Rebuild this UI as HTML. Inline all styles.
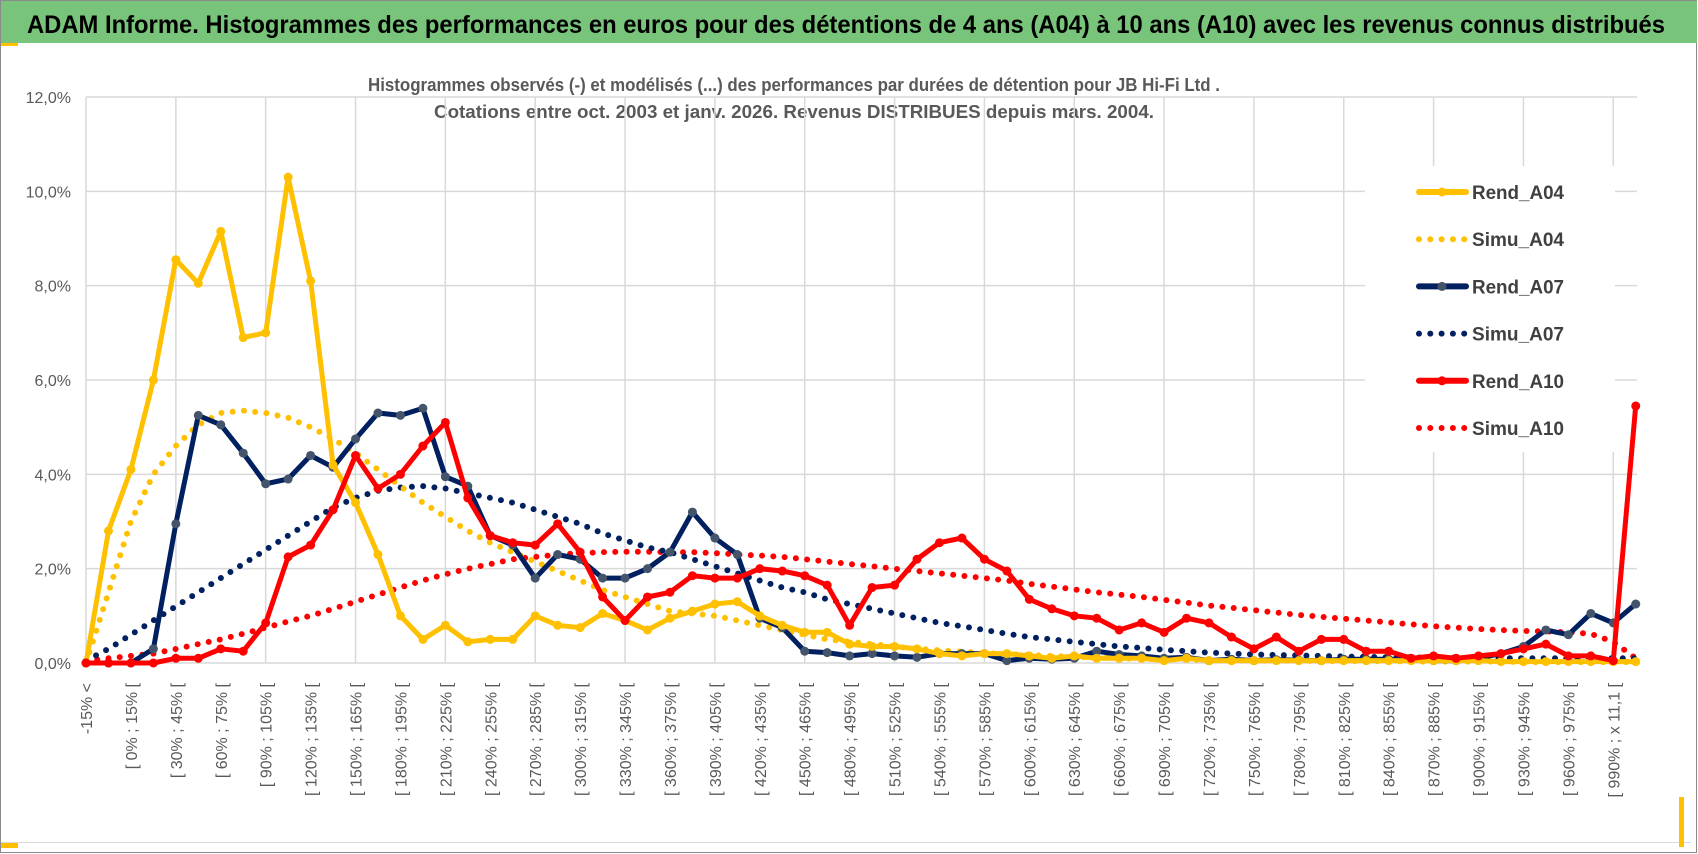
<!DOCTYPE html>
<html><head><meta charset="utf-8"><style>
html,body{margin:0;padding:0;background:#fff;}
svg{display:block;font-family:"Liberation Sans",sans-serif;}
</style></head><body>
<svg id="chart" width="1698" height="854" viewBox="0 0 1698 854">
<rect x="0" y="0" width="1698" height="854" fill="#fff"/>
<rect x="0.5" y="0.5" width="1696" height="852" fill="none" stroke="#8a8a8a"/>
<rect x="1" y="1" width="1696" height="42" fill="#79c47b"/>
<rect x="1" y="43" width="17" height="3" fill="#ffc000"/>
<rect x="1" y="842" width="1690" height="1" fill="#d9d9d9"/>
<rect x="1" y="843" width="17" height="5" fill="#ffc000"/>
<rect x="1679" y="797" width="5" height="50" fill="#ffc000"/>
<text x="27" y="33" font-size="25" font-weight="bold" fill="#000" textLength="1638" lengthAdjust="spacingAndGlyphs">ADAM Informe. Histogrammes des performances en euros pour des détentions de 4 ans (A04) à 10 ans (A10) avec les revenus connus distribués</text>
<text x="794" y="91" font-size="18" font-weight="bold" fill="#595959" text-anchor="middle" textLength="852" lengthAdjust="spacingAndGlyphs">Histogrammes observés (-) et modélisés (...) des performances par durées de détention pour JB Hi-Fi Ltd .</text>
<text x="794" y="118" font-size="18" font-weight="bold" fill="#595959" text-anchor="middle" textLength="720" lengthAdjust="spacingAndGlyphs">Cotations entre oct. 2003 et janv. 2026. Revenus DISTRIBUES depuis mars. 2004.</text>
<g id="grid"></g>
<g id="yaxis"></g>
<g id="xaxis"></g>
<g id="series"></g>
<g id="legend"></g>
</svg>
<script>
const categories = (function(){ const c=["-15% <","[ -15% ; 0% ["]; for(let v=0; v<=975; v+=15) c.push("[ "+v+"% ; "+(v+15)+"% ["); c.push("[ 990% ; x 11,1 ["); c.push("> x 11,1"); return c; })();
const yTicks = [0,2,4,6,8,10,12];
const yTickLabels = ["0,0%","2,0%","4,0%","6,0%","8,0%","10,0%","12,0%"];
const rendA04 = [0,2.8,4.1,6.0,8.55,8.05,9.15,6.9,7.0,10.3, 8.1,4.2,3.4,2.3,1.0,0.5,0.8,0.45,0.5,0.5, 1.0,0.8,0.75,1.05,0.9,0.7,0.95,1.1,1.25,1.3, 1.0,0.8,0.65,0.65,0.4,0.35,0.35,0.3,0.2,0.15, 0.2,0.2,0.15,0.1,0.15,0.1,0.1,0.1,0.05,0.1, 0.05,0.05,0.05,0.05,0.05,0.05,0.05,0.05,0.05,0.05, 0.05,0.05,0.05,0.03,0.03,0.03,0.03,0.03,0.03,0.03];
const simuA04 = [0,1.5,3.0,4.0,4.6,5.05,5.3,5.35,5.3,5.2, 5.0,4.75,4.45,4.1,3.75,3.4,3.1,2.8,2.55,2.35, 2.15,1.95,1.75,1.55,1.4,1.25,1.1,1.05,1.0,0.9, 0.8,0.7,0.6,0.5,0.45,0.4,0.35,0.3,0.27,0.24, 0.21,0.19,0.17,0.15,0.13,0.12,0.1,0.09,0.08,0.07, 0.06,0.06,0.05,0.05,0.05,0.04,0.04,0.04,0.04,0.03, 0.03,0.03,0.03,0.03,0.02,0.02,0.02,0.02,0.02,0.02];
const rendA07 = [0,0,0,0.3,2.95,5.25,5.05,4.45,3.8,3.9, 4.4,4.15,4.75,5.3,5.25,5.4,3.95,3.75,2.7,2.5, 1.8,2.3,2.2,1.8,1.8,2.0,2.35,3.2,2.65,2.3, 0.95,0.75,0.25,0.22,0.15,0.2,0.15,0.12,0.2,0.2, 0.2,0.05,0.1,0.08,0.1,0.25,0.18,0.15,0.1,0.12, 0.05,0.08,0.05,0.07,0.06,0.05,0.08,0.08,0.08,0.08, 0.05,0.05,0.1,0.2,0.35,0.7,0.6,1.05,0.85,1.25];
const simuA07 = [0.05,0.3,0.6,0.9,1.2,1.5,1.8,2.1,2.4,2.7, 3.0,3.3,3.5,3.65,3.72,3.75,3.7,3.6,3.5,3.4, 3.25,3.1,2.95,2.75,2.6,2.45,2.35,2.2,2.05,1.9, 1.75,1.6,1.5,1.35,1.25,1.15,1.05,0.95,0.85,0.78, 0.7,0.62,0.55,0.5,0.45,0.4,0.35,0.32,0.28,0.25, 0.22,0.2,0.18,0.17,0.16,0.15,0.14,0.13,0.12,0.12, 0.11,0.11,0.1,0.1,0.1,0.1,0.1,0.1,0.1,0.1];
const rendA10 = [0,0,0,0,0.1,0.1,0.3,0.25,0.85,2.25, 2.5,3.25,4.4,3.7,4.0,4.6,5.1,3.5,2.7,2.55, 2.5,2.95,2.35,1.4,0.9,1.4,1.5,1.85,1.8,1.8, 2.0,1.95,1.85,1.65,0.8,1.6,1.65,2.2,2.55,2.65, 2.2,1.95,1.35,1.15,1.0,0.95,0.7,0.85,0.65,0.95, 0.85,0.55,0.3,0.55,0.25,0.5,0.5,0.25,0.25,0.1, 0.15,0.1,0.15,0.2,0.3,0.4,0.15,0.15,0.05,5.45];
const simuA10 = [0.05,0.1,0.15,0.2,0.3,0.4,0.5,0.62,0.75,0.88, 1.0,1.15,1.3,1.45,1.6,1.75,1.88,2.0,2.1,2.2, 2.25,2.3,2.33,2.35,2.36,2.36,2.35,2.35,2.33,2.3, 2.28,2.25,2.2,2.15,2.1,2.05,2.0,1.95,1.9,1.85, 1.8,1.75,1.68,1.62,1.56,1.5,1.45,1.4,1.34,1.28, 1.22,1.17,1.12,1.07,1.02,0.98,0.94,0.9,0.86,0.82, 0.78,0.75,0.72,0.7,0.68,0.67,0.65,0.62,0.45,0.1];
const seriesNames = ["Rend_A04","Simu_A04","Rend_A07","Simu_A07","Rend_A10","Simu_A10"];

const NS="http://www.w3.org/2000/svg";
const X0=86, STEP=22.46, Y0=663, YTOP=97, YMAX=12, XR=1637;
function xs(i){ return X0+i*STEP; }
function ys(v){ return Y0-(v/YMAX)*(Y0-YTOP); }
function mk(tag,attrs,parent){ const e=document.createElementNS(NS,tag); for(const k in attrs) e.setAttribute(k,attrs[k]); parent.appendChild(e); return e; }

const grid=document.getElementById('grid');
yTicks.forEach(function(t){
  const l=mk('line',{x1:X0,x2:XR,y1:ys(t),y2:ys(t),stroke:'#d9d9d9','stroke-width':1.5},grid);
  
  
});
for(let i=0;i<categories.length;i+=4){
  const l=mk('line',{x1:xs(i),x2:xs(i),y1:YTOP,y2:Y0,stroke:'#d9d9d9','stroke-width':1.5},grid);
  
  
}
const ya=document.getElementById('yaxis');
yTicks.forEach(function(t,k){
  const tx=mk('text',{x:71,y:ys(t)+6,'font-size':16,fill:'#595959','text-anchor':'end'},ya);
  tx.textContent=yTickLabels[k];
  
  
});
const xa=document.getElementById('xaxis');
for(let i=0;i<categories.length;i+=2){
  const x=xs(i)+6, y=683;
  const tx=mk('text',{x:x,y:y,'font-size':16,fill:'#595959','text-anchor':'end',transform:'rotate(-90 '+x+' '+y+')'},xa);
  tx.textContent=categories[i];
  
  
}

const ser=document.getElementById('series');
function pts(arr){ return arr.map(function(v,i){ return xs(i).toFixed(1)+','+ys(v).toFixed(1); }).join(' '); }
function dotted(arr,color,name){
  const p=mk('polyline',{points:pts(arr),fill:'none',stroke:color,'stroke-width':6,'stroke-linecap':'round','stroke-dasharray':'0 11.3'},ser);
  
  
}
function solid(arr,color,mcol,name){
  const g=mk('g',{},ser);
  
  
  mk('polyline',{points:pts(arr),fill:'none',stroke:color,'stroke-width':5,'stroke-linejoin':'round'},g);
  arr.forEach(function(v,i){
    const c=mk('circle',{cx:xs(i),cy:ys(v),r:4.5,fill:mcol},g);
    
    
  });
}
dotted(simuA10,'#ff0000','simu-a10-line');
dotted(simuA07,'#002060','simu-a07-line');
dotted(simuA04,'#ffc000','simu-a04-line');
solid(rendA07,'#002060','#44546a','rend-a07-line');
solid(rendA04,'#ffc000','#ffc000','rend-a04-line');
solid(rendA10,'#ff0000','#ff0000','rend-a10-line');

const lg=document.getElementById('legend');
const bg=mk('rect',{x:1365,y:166,width:250,height:286,fill:'#fff'},lg);


const lcol=['#ffc000','#ffc000','#002060','#002060','#ff0000','#ff0000'];
const mcol=['#ffc000','#ffc000','#44546a','#002060','#ff0000','#ff0000'];
seriesNames.forEach(function(n,k){
  const y=192+k*47.2;
  const g=mk('g',{},lg);
  
  
  if(k%2===0){
    mk('line',{x1:1419,x2:1466,y1:y,y2:y,stroke:lcol[k],'stroke-width':6,'stroke-linecap':'round'},g);
    mk('circle',{cx:1442,cy:y,r:4.5,fill:mcol[k]},g);
  } else {
    mk('line',{x1:1419,x2:1466,y1:y,y2:y,stroke:lcol[k],'stroke-width':6,'stroke-linecap':'round','stroke-dasharray':'0 11.3'},g);
  }
  const t=mk('text',{x:1472,y:y+7,'font-size':19,'font-weight':'bold',fill:'#404040',textLength:92,lengthAdjust:'spacingAndGlyphs'},g);
  t.textContent=n;
});
</script>
</body></html>
